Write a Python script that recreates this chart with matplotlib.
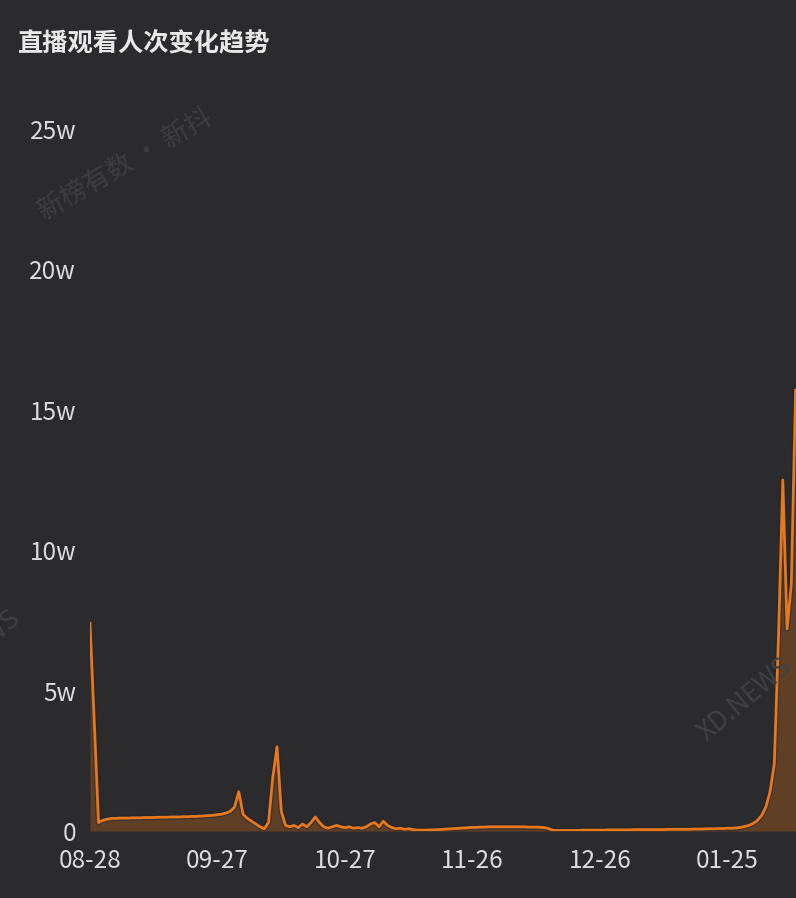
import matplotlib
matplotlib.use("Agg")
import matplotlib.pyplot as plt
import matplotlib.patheffects as pe
import pandas as pd
import numpy as np

plt.rcParams['font.family'] = ['Noto Sans CJK SC', 'DejaVu Sans']

title = "直播观看人次变化趋势"
start_date = "2023-08-28"
# daily views, in units of w (10k)
views_w = [
    7.4, 3.9, 0.30, 0.38, 0.42, 0.45, 0.45, 0.46, 0.46, 0.46,
    0.47, 0.47, 0.47, 0.48, 0.48, 0.48, 0.49, 0.49, 0.49, 0.50,
    0.50, 0.50, 0.51, 0.51, 0.52, 0.52, 0.53, 0.54, 0.55, 0.56,
    0.58, 0.60, 0.64, 0.70, 0.85, 1.40, 0.60, 0.45, 0.35, 0.25,
    0.15, 0.08, 0.30, 1.90, 3.00, 0.70, 0.20, 0.15, 0.20, 0.12,
    0.25, 0.15, 0.30, 0.50, 0.30, 0.15, 0.10, 0.15, 0.20, 0.15,
    0.12, 0.15, 0.10, 0.12, 0.10, 0.15, 0.25, 0.30, 0.15, 0.35,
    0.20, 0.12, 0.08, 0.10, 0.06, 0.08, 0.05, 0.03, 0.03, 0.03,
    0.04, 0.04, 0.05, 0.06, 0.07, 0.08, 0.09, 0.10, 0.11, 0.12,
    0.13, 0.13, 0.14, 0.14, 0.15, 0.15, 0.15, 0.15, 0.15, 0.15,
    0.15, 0.15, 0.15, 0.14, 0.14, 0.14, 0.13, 0.12, 0.08, 0.02,
    0.02, 0.02, 0.02, 0.02, 0.02, 0.02, 0.03, 0.03, 0.03, 0.03,
    0.03, 0.03, 0.04, 0.04, 0.04, 0.04, 0.04, 0.04, 0.05, 0.05,
    0.05, 0.05, 0.05, 0.05, 0.05, 0.05, 0.06, 0.06, 0.06, 0.06,
    0.06, 0.06, 0.07, 0.07, 0.07, 0.08, 0.08, 0.08, 0.09, 0.09,
    0.10, 0.10, 0.11, 0.13, 0.16, 0.20, 0.27, 0.37, 0.55, 0.85,
    1.40, 2.40, 7.00, 12.50, 7.20, 8.80, 15.70,
]
y_ticks = [0, 5, 10, 15, 20, 25]
y_tick_labels = ["0", "5w", "10w", "15w", "20w", "25w"]
x_tick_step = 30

dates = pd.date_range(start_date, periods=len(views_w), freq="D")
x = np.arange(len(views_w))
x_ticks = x[::x_tick_step]
x_tick_labels = [d.strftime("%m-%d") for d in dates[::x_tick_step]]

bg = "#2b2b2d"
line_color = "#e8781a"
text_color = "#dcdcdc"

fig = plt.figure(figsize=(7.96, 8.98), dpi=100, facecolor=bg)
ax = fig.add_axes([90 / 796, 67 / 898, (796 - 90) / 796, 702 / 898], facecolor=bg)

ax.fill_between(x, views_w, 0, color=line_color, alpha=0.28, linewidth=0)
ax.plot(x, views_w, color=line_color, linewidth=2.0, solid_joinstyle="round",
        path_effects=[pe.Stroke(linewidth=4.0, foreground="#1c2430", alpha=0.45),
                      pe.Normal()])

ax.set_xlim(0, 166.1)
ax.set_ylim(0, 25)
ax.set_yticks(y_ticks)
ax.set_yticklabels(y_tick_labels)
ax.set_xticks(x_ticks)
ax.set_xticklabels(x_tick_labels)
ax.tick_params(axis="both", length=0, colors=text_color, labelsize=17.5)
for lbl in ax.get_xticklabels() + ax.get_yticklabels():
    lbl.set_fontweight("medium")
ax.tick_params(axis="y", pad=10)
ax.tick_params(axis="x", pad=12)
for s in ax.spines.values():
    s.set_visible(False)

fig.text(18 / 796, 1 - 44 / 898, title, color="#e8e8e8", fontsize=18.2,
         fontweight="bold", ha="left", va="center")

# watermarks
fig.text(125 / 796, 1 - 165 / 898, "新榜有数 · 新抖", color="#3e3e40", fontsize=19,
         rotation=30, ha="center", va="center", rotation_mode="anchor")
fig.text(745 / 796, 1 - 700 / 898, "XD.NEWS", color="#414143", fontsize=19,
         rotation=40, ha="center", va="center", rotation_mode="anchor")
fig.text(17 / 796, 1 - 615 / 898, "XD.NEWS", color="#414143", fontsize=19,
         rotation=40, ha="right", va="center", rotation_mode="anchor")

fig.savefig("out.png", dpi=100, facecolor=bg)
